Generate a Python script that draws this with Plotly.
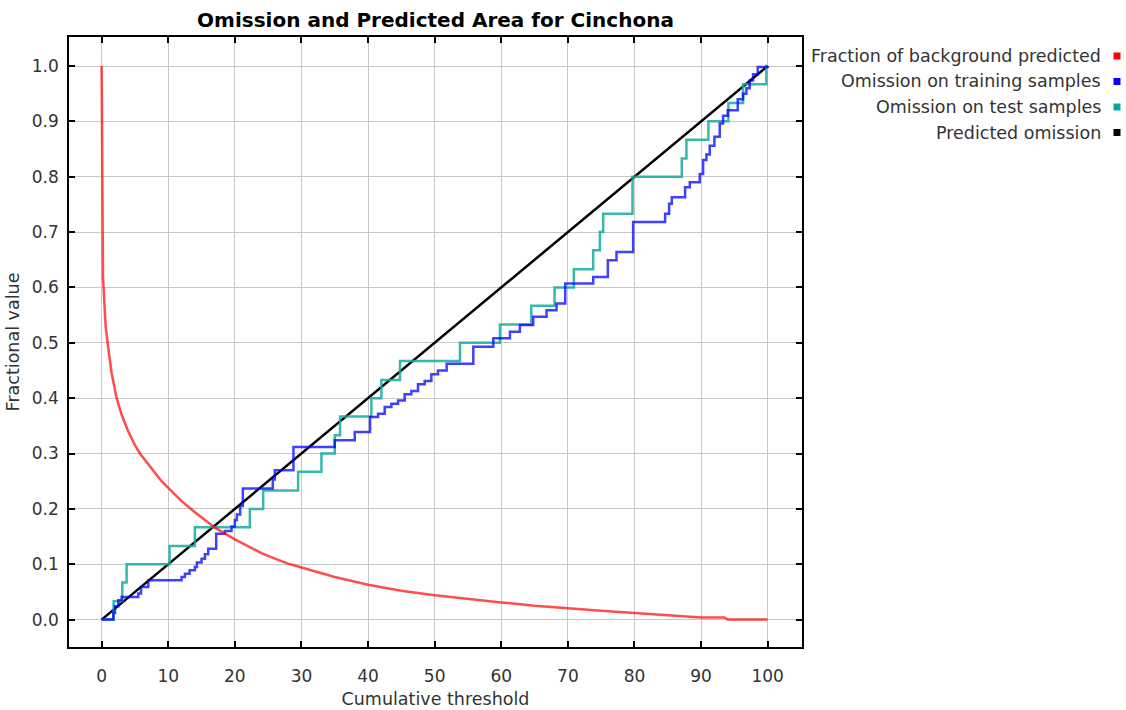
import plotly.graph_objects as go

# ---------------- data ----------------
red_x = [0, 0.05, 0.15, 0.2, 0.3, 0.4, 0.6, 1.0, 1.5, 2.25, 3, 4, 5, 5.75, 7, 8, 9, 10, 12, 14, 16, 17,
         20, 22, 24, 26, 28, 30, 35, 40, 45, 50, 55, 60, 65, 70, 75, 80, 85, 90, 93.5, 94, 100]
red_y = [1.0, 0.73, 0.72, 0.62, 0.60, 0.56, 0.53, 0.49, 0.445, 0.40, 0.37, 0.34, 0.315, 0.30, 0.28, 0.265,
         0.25, 0.238, 0.214, 0.194, 0.175, 0.166, 0.145, 0.132, 0.12, 0.11, 0.101, 0.094, 0.077, 0.063,
         0.052, 0.044, 0.037, 0.031, 0.025, 0.02, 0.016, 0.012, 0.008, 0.004, 0.004, 0.0, 0.0]

blue_x = [0, 1.75, 2.0, 2.5, 3.0, 5.5, 5.9, 7.0, 12.0, 12.5, 13.2, 14.0, 14.3, 15.0, 15.5, 16.0, 17.2,
          18.5, 19.5, 20.0, 20.3, 20.8, 21.2, 25.7, 26.0, 28.8, 35.0, 38.0, 40.3, 41.5, 42.5, 43.5, 44.5,
          45.5, 46.5, 47.5, 48.5, 49.5, 50.5, 51.8, 55.8, 58.8, 61.3, 62.8, 64.8, 66.8, 68.3, 69.6, 73.8,
          76.0, 77.3, 79.8, 84.6, 85.2, 85.6, 87.6, 88.3, 89.8, 90.3, 90.8, 91.3, 92.0, 92.8, 93.3, 94.0,
          95.5, 96.3, 96.8, 97.3, 97.8, 98.5, 100]
blue_y = [0, 0.012, 0.024, 0.035, 0.041, 0.047, 0.059, 0.071, 0.077, 0.083, 0.089, 0.095, 0.103, 0.110,
          0.118, 0.128, 0.155, 0.160, 0.168, 0.180, 0.190, 0.205, 0.237, 0.253, 0.270, 0.312, 0.324, 0.339,
          0.366, 0.372, 0.384, 0.390, 0.396, 0.407, 0.413, 0.425, 0.431, 0.443, 0.450, 0.462, 0.493, 0.508,
          0.520, 0.532, 0.547, 0.559, 0.571, 0.607, 0.619, 0.649, 0.664, 0.718, 0.733, 0.751, 0.763, 0.781,
          0.790, 0.805, 0.830, 0.840, 0.856, 0.872, 0.896, 0.910, 0.920, 0.940, 0.950, 0.960, 0.974, 0.985,
          0.998, 1.0]

teal_x = [0, 1.8, 3.1, 3.75, 10.2, 14.0, 22.25, 24.25, 29.5, 33.0, 35.0, 35.8, 40.5, 42.0, 44.8, 53.8,
          59.8, 64.5, 68.0, 70.9, 73.8, 74.8, 75.3, 79.7, 87.1, 87.8, 91.1, 94.1, 96.3, 99.8, 100]
teal_y = [0, 0.033, 0.067, 0.1, 0.133, 0.167, 0.2, 0.233, 0.267, 0.3, 0.333, 0.367, 0.4, 0.433, 0.467,
          0.5, 0.533, 0.567, 0.6, 0.633, 0.667, 0.7, 0.733, 0.8, 0.833, 0.867, 0.9, 0.933, 0.967, 1.0, 1.0]

pred_x = [0, 100]
pred_y = [0, 1.0]

x_ticks = list(range(0, 101, 10))
y_ticks = [0.0, 0.1, 0.2, 0.3, 0.4, 0.5, 0.6, 0.7, 0.8, 0.9, 1.0]

legend_labels = ["Fraction of background predicted", "Omission on training samples",
                 "Omission on test samples", "Predicted omission"]
legend_colors = ["#ff0000", "#0000ff", "#00a8a8", "#000000"]

title_text = "Omission and Predicted Area for Cinchona"
x_title = "Cumulative threshold"
y_title = "Fractional value"

# ---------------- layout geometry (pixels) ----------------
W, H = 1126, 710
L, R, T, B = 69, 802, 37, 647
FONT = "DejaVu Sans"


def px_to_paper_x(px):
    return (px - L) / (R - L)


def px_to_paper_y(py):
    return (B - py) / (B - T)


fig = go.Figure()

# series drawn in reverse order (first series on top)
fig.add_trace(go.Scatter(x=pred_x, y=pred_y, mode="lines", line=dict(color="#000000", width=2.5),
                         name=legend_labels[3], hoverinfo="skip"))
fig.add_trace(go.Scatter(x=teal_x, y=teal_y, mode="lines", line=dict(color="rgba(20,170,160,0.85)", width=2.5, shape="hv"),
                         name=legend_labels[2]))
fig.add_trace(go.Scatter(x=blue_x, y=blue_y, mode="lines", line=dict(color="rgba(0,0,255,0.75)", width=2.5, shape="hv"),
                         name=legend_labels[1]))
fig.add_trace(go.Scatter(x=red_x, y=red_y, mode="lines", line=dict(color="rgba(255,0,0,0.7)", width=2.5),
                         name=legend_labels[0]))

axis_common = dict(
    showgrid=True, gridcolor="#c8c8c8", gridwidth=1,
    zeroline=False, showline=True, linecolor="#000000", linewidth=1.5,
    mirror="ticks", ticks="inside", ticklen=6, tickwidth=1.5, tickcolor="#000000",
    tickfont=dict(family=FONT, size=17, color="#333333"),
    automargin=False,
)

fig.update_layout(
    width=W, height=H, autosize=False,
    margin=dict(l=L, r=W - R, t=T, b=H - B, pad=0),
    paper_bgcolor="white", plot_bgcolor="white",
    showlegend=False,
    title=dict(text="<b>" + title_text + "</b>", x=0.5, xref="paper", xanchor="center",
               y=1 - 20 / H, yref="container", yanchor="middle",
               font=dict(family=FONT, size=20, color="#000000")),
    xaxis=dict(range=[-4.9, 105.15], tickvals=x_ticks, ticklabelstandoff=13,
               title=dict(text=x_title, font=dict(family=FONT, size=17.5, color="#333333"), standoff=8),
               **axis_common),
    yaxis=dict(range=[-0.0495, 1.0524], tickvals=y_ticks, tickformat=".1f", ticklabelstandoff=5,
               title=dict(text=y_title, font=dict(family=FONT, size=17.5, color="#333333"), standoff=8),
               **axis_common),
)

# legend on the right: right-aligned text with a colored square after it
row_y = [56, 81.5, 107, 132.5]
text_right = 1103
marker_cx = 1117
msz = 7
for lab, col, ry in zip(legend_labels, legend_colors, row_y):
    fig.add_annotation(text=lab, xref="paper", yref="paper", x=px_to_paper_x(text_right), y=px_to_paper_y(ry),
                       xanchor="right", yanchor="middle", showarrow=False,
                       font=dict(family=FONT, size=17.5, color="#333333"))
    fig.add_shape(type="rect", xref="paper", yref="paper",
                  x0=px_to_paper_x(marker_cx - msz / 2), x1=px_to_paper_x(marker_cx + msz / 2),
                  y0=px_to_paper_y(ry + msz / 2), y1=px_to_paper_y(ry - msz / 2),
                  fillcolor=col, line=dict(width=0))

fig.write_html("out.html", config={"displayModeBar": False},
               post_script="document.body.style.margin='0px';document.body.style.overflow='hidden';")
